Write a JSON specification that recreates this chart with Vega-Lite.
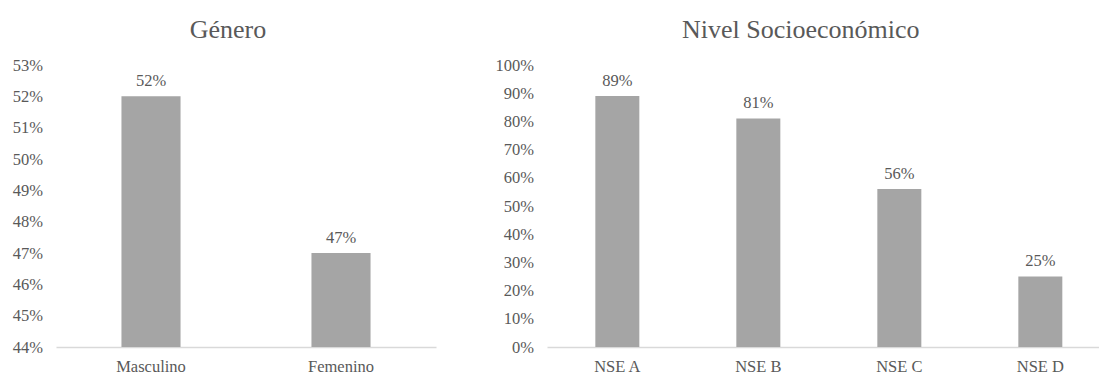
{
  "$schema": "https://vega.github.io/schema/vega-lite/v6.json",
  "background": "white",
  "padding": {"left": 12, "top": 17, "right": 0, "bottom": -3},
  "spacing": 59,
  "config": {
    "font": "'Liberation Serif', 'Times New Roman', 'DejaVu Serif', serif",
    "view": {"stroke": null},
    "axis": {
      "labelFont": "'Liberation Serif', 'Times New Roman', 'DejaVu Serif', serif",
      "labelFontSize": 16.5,
      "labelColor": "#595959",
      "title": null,
      "grid": false,
      "ticks": false
    },
    "axisX": {"domainColor": "#d9d9d9", "domainWidth": 1.5, "labelPadding": 11, "labelAngle": 0},
    "axisY": {"domain": false, "labelPadding": 13.5},
    "title": {"font": "'Liberation Serif', 'Times New Roman', 'DejaVu Serif', serif", "fontSize": 26, "fontWeight": "normal", "color": "#595959", "anchor": "middle", "offset": 14}
  },
  "hconcat": [
    {
      "title": {"text": "Género", "dx": -18},
      "width": 380,
      "height": 282,
      "data": {"values": [
        {"categoria": "Masculino", "valor": 0.52},
        {"categoria": "Femenino", "valor": 0.47}
      ]},
      "encoding": {
        "x": {"field": "categoria", "type": "nominal", "sort": null,
              "scale": {"paddingInner": 0.689, "paddingOuter": 0.3445}},
        "y": {"field": "valor", "type": "quantitative",
              "scale": {"domain": [0.44, 0.53], "nice": false, "zero": false},
              "axis": {"values": [0.44, 0.45, 0.46, 0.47, 0.48, 0.49, 0.5, 0.51, 0.52, 0.53], "format": ".0%"}}
      },
      "layer": [
        {"mark": {"type": "bar", "color": "#a5a5a5", "clip": true}},
        {"mark": {"type": "text", "baseline": "alphabetic", "dy": -10.5, "fontSize": 16.5, "color": "#595959"},
         "encoding": {"text": {"field": "valor", "type": "quantitative", "format": ".0%"}}}
      ]
    },
    {
      "title": {"text": "Nivel Socioeconómico", "dx": -22.7},
      "width": 553,
      "height": 282,
      "data": {"values": [
        {"categoria": "NSE A", "valor": 0.89},
        {"categoria": "NSE B", "valor": 0.81},
        {"categoria": "NSE C", "valor": 0.56},
        {"categoria": "NSE D", "valor": 0.25}
      ]},
      "encoding": {
        "x": {"field": "categoria", "type": "nominal", "sort": null,
              "scale": {"paddingInner": 0.688, "paddingOuter": 0.305, "align": 0.562}},
        "y": {"field": "valor", "type": "quantitative",
              "scale": {"domain": [0, 1], "nice": false},
              "axis": {"values": [0, 0.1, 0.2, 0.3, 0.4, 0.5, 0.6, 0.7, 0.8, 0.9, 1], "format": ".0%"}}
      },
      "layer": [
        {"mark": {"type": "bar", "color": "#a5a5a5"}},
        {"mark": {"type": "text", "baseline": "alphabetic", "dy": -10.5, "fontSize": 16.5, "color": "#595959"},
         "encoding": {"text": {"field": "valor", "type": "quantitative", "format": ".0%"}}}
      ]
    }
  ]
}
